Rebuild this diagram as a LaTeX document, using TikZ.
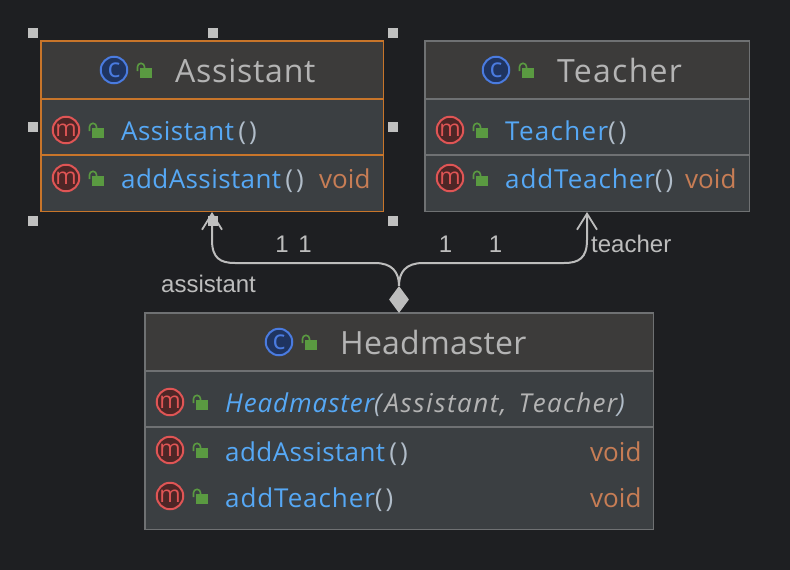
\documentclass[tikz,border=0pt]{standalone}
\usepackage{fontspec}
\usetikzlibrary{shapes.geometric,arrows.meta}
\setmainfont{Liberation Sans}
\newfontfamily\uifont{Open Sans}
\definecolor{bgc}{HTML}{1E1F22}
\definecolor{headc}{HTML}{3C3B3A}
\definecolor{bodyc}{HTML}{3B3F42}
\definecolor{greyline}{HTML}{6F7173}
\definecolor{orangeline}{HTML}{C8752A}
\definecolor{titlec}{HTML}{B4B4B4}
\definecolor{bluec}{HTML}{56A8F5}
\definecolor{parenc}{HTML}{B0BCC8}
\definecolor{voidc}{HTML}{C77D55}
\definecolor{lockc}{HTML}{5A9A41}
\definecolor{cring}{HTML}{4A7BE0}
\definecolor{cfill}{HTML}{1F3460}
\definecolor{mring}{HTML}{E05555}
\definecolor{mfill}{HTML}{4D2626}
\definecolor{linkc}{HTML}{BDBDBD}
\tikzset{
  classbox/.style={rectangle,anchor=north west,inner sep=0pt,fill=bodyc},
  headband/.style={fill=headc},
  greyframe/.style={draw=greyline,line width=1.5pt},
  orangeframe/.style={draw=orangeline,line width=1.5pt},
  titletext/.style={anchor=base west,inner sep=0pt,text=titlec,font=\uifont\fontsize{32}{36}\selectfont},
  membertext/.style={anchor=base west,inner sep=0pt,text=bluec,font=\uifont\fontsize{26}{30}\selectfont},
  voidtext/.style={anchor=base west,inner sep=0pt,text=voidc,font=\uifont\fontsize{26}{30}\selectfont},
  linktext/.style={anchor=base,inner sep=0pt,text=linkc,font=\fontsize{24}{28}\selectfont},
  handlebox/.style={rectangle,fill=linkc!95!white,minimum width=10pt,minimum height=10pt,inner sep=0pt},
  cicon/.style={circle,draw=cring,fill=cfill,line width=2pt,minimum size=26.5pt,inner sep=0pt,text=cring,font=\uifont\fontsize{27}{27}\selectfont},
  micon/.style={circle,draw=mring,fill=mfill,line width=2pt,minimum size=26.5pt,inner sep=0pt,text=mring,font=\uifont\fontsize{23}{23}\selectfont},
  link/.style={draw=linkc,line width=2pt,line join=round},
  linkend/.style={-{Straight Barb[length=16pt,width=20pt,line width=1.8pt]}},
}
\newcommand{\trk}[2]{{\addfontfeature{LetterSpace=#1}#2}}
\newcommand{\prn}[1]{\textcolor{parenc}{\trk{12}{#1}}}
\newcommand{\openlock}[2]{%
  \fill[lockc] (#1,#2) rectangle ++(12,10);
  \draw[lockc,line width=1.6pt] (#1-2.5,#2+3) -- ++(0,-4.2) arc[start angle=180,end angle=360,radius=3.5] -- ++(0,1.2);
}
\newcommand{\voidmark}[3]{\node[voidtext] (#1) at (#2,#3) {void};}
\begin{document}
\begin{tikzpicture}[x=1pt,y=-1pt]
\useasboundingbox (0,0) rectangle (790,570);
\fill[bgc] (0,0) rectangle (790,570);

% Assistant
\node[classbox,minimum width=342pt,minimum height=170pt] (assistant) at (41,41) {};
\fill[headband] (41,41) rectangle (383,99);
\draw[orangeframe] (41,99) -- (383,99);
\draw[orangeframe] (41,155) -- (383,155);
\draw[orangeframe] (assistant.north west) rectangle (assistant.south east);
\node[cicon] (ac) at (114,70) {c};
\openlock{140}{68}
\node[titletext] (at) at (175,82) {\trk{2.4}{Assistant}};
\node[micon] (am1) at (66,130) {m};
\openlock{92}{128}
\node[membertext] (am1t) at (121,140) {\trk{1.8}{Assistant}\,\prn{()}};
\node[micon] (am2) at (66,178) {m};
\openlock{92}{176}
\node[membertext] (am2t) at (121,188) {\trk{1.6}{addAssistant}\,\prn{()}};
\voidmark{am2v}{319}{188}

% Teacher
\node[classbox,minimum width=324pt,minimum height=170pt] (teacher) at (425,41) {};
\fill[headband] (425,41) rectangle (749,99);
\draw[greyframe] (425,99) -- (749,99);
\draw[greyframe] (425,155) -- (749,155);
\draw[greyframe] (teacher.north west) rectangle (teacher.south east);
\node[cicon] (tc) at (496,70) {c};
\openlock{522}{68}
\node[titletext] (tt) at (557,82) {\trk{4}{Teacher}};
\node[micon] (tm1) at (450,130) {m};
\openlock{476}{128}
\node[membertext] (tm1t) at (505,140) {\trk{5}{Teacher}\prn{()}};
\node[micon] (tm2) at (450,178) {m};
\openlock{476}{176}
\node[membertext] (tm2t) at (505,188) {\trk{3.5}{addTeacher}\prn{()}};
\voidmark{tm2v}{685}{188}

% Headmaster
\node[classbox,minimum width=508pt,minimum height=216pt] (headmaster) at (145,313) {};
\fill[headband] (145,313) rectangle (653,371);
\draw[greyframe] (145,371) -- (653,371);
\draw[greyframe] (145,427) -- (653,427);
\draw[greyframe] (headmaster.north west) rectangle (headmaster.south east);
\node[cicon] (hc) at (279,342) {c};
\openlock{305}{340}
\node[titletext] (ht) at (340,354) {\trk{0.7}{Headmaster}};
\node[micon] (hm1) at (170,402) {m};
\openlock{196}{400}
\node[membertext] (hm1t) at (225,412) {\itshape\trk{3.5}{Headmaster}\textcolor{parenc}{(}\hspace{3pt}\textcolor{titlec}{\trk{6}{Assistant,}\hspace{12pt}\trk{5.2}{Teacher}}\textcolor{parenc}{)}};
\node[micon] (hm2) at (170,450) {m};
\openlock{196}{448}
\node[membertext] (hm2t) at (225,461) {\trk{1.6}{addAssistant}\,\prn{()}};
\voidmark{hm2v}{590}{461}
\node[micon] (hm3) at (170,496) {m};
\openlock{196}{494}
\node[membertext] (hm3t) at (225,507) {\trk{3.5}{addTeacher}\prn{()}};
\voidmark{hm3v}{590}{507}

% Connectors
\node[diamond,fill=linkc,minimum width=20pt,minimum height=27pt,aspect=0.74,inner sep=0pt] (dia) at (399,299.5) {};
\coordinate (atip) at (212,212);
\coordinate (ttip) at (587,212);
\draw[link,linkend] (dia.north) .. controls (399,272) and (392,263) .. (375,263) -- (235,263) .. controls (220,263) and (212,258) .. (212,240) -- (atip);
\draw[link,linkend] (dia.north) .. controls (399,272) and (406,263) .. (423,263) -- (564,263) .. controls (579,263) and (587,258) .. (587,240) -- (ttip);

\node[linktext] (n1) at (282,252) {1};
\node[linktext] (n2) at (305,252) {1};
\node[linktext] (n3) at (445.5,252) {1};
\node[linktext] (n4) at (495.5,252) {1};
\node[linktext,anchor=base west] (lt) at (591,252) {teacher};
\node[linktext,anchor=base west] (la) at (161,292) {assistant};

% Selection handles
\node[handlebox] (h1) at (33,33) {};
\node[handlebox] (h2) at (213,33) {};
\node[handlebox] (h3) at (393,33) {};
\node[handlebox] (h4) at (33,127) {};
\node[handlebox] (h5) at (393,127) {};
\node[handlebox] (h6) at (33,221) {};
\node[handlebox] (h7) at (213,221) {};
\node[handlebox] (h8) at (393,221) {};
\end{tikzpicture}
\end{document}
